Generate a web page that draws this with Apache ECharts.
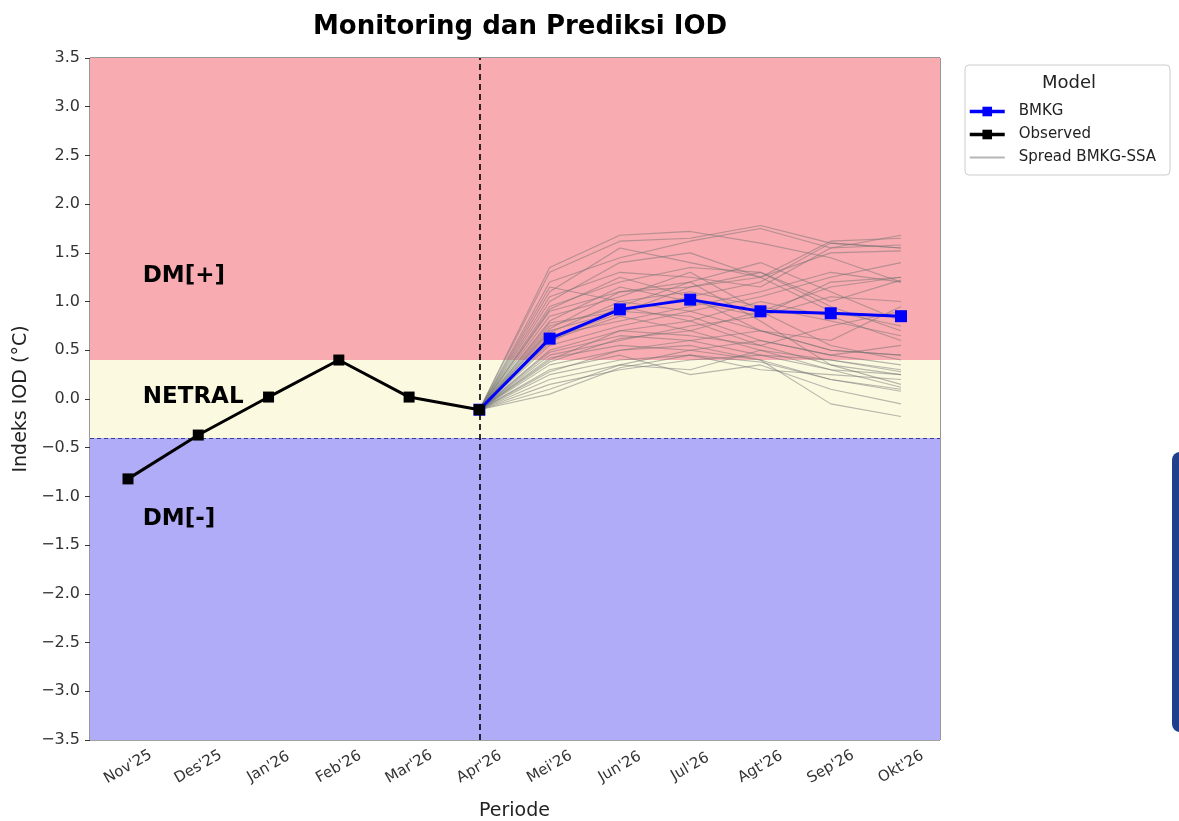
<!DOCTYPE html>
<html>
<head>
<meta charset="utf-8">
<script src="https://cdn.jsdelivr.net/npm/echarts@6/dist/echarts.min.js"></script>
<style>
  html, body { margin: 0; padding: 0; background: #fff; }
  #main { width: 1179px; height: 821px; }
</style>
</head>
<body>
<div id="main"></div>
<script>
var periods = ["Nov'25", "Des'25", "Jan'26", "Feb'26", "Mar'26", "Apr'26",
               "Mei'26", "Jun'26", "Jul'26", "Agt'26", "Sep'26", "Okt'26"];

var observed = [-0.82, -0.37, 0.02, 0.40, 0.02, -0.11];
var bmkg = [-0.11, 0.62, 0.92, 1.02, 0.90, 0.88, 0.85];
var forecastStart = 5; // Apr'26

// ensemble members, Apr'26 .. Okt'26
var spread = [
  [-0.11, 1.35, 1.68, 1.72, 1.60, 1.45, 1.20],
  [-0.11, 1.30, 1.62, 1.65, 1.78, 1.60, 1.55],
  [-0.11, 1.20, 1.45, 1.62, 1.75, 1.55, 1.58],
  [-0.11, 1.10, 1.55, 1.40, 1.25, 1.62, 1.65],
  [-0.11, 1.05, 1.30, 1.25, 1.15, 1.55, 1.68],
  [-0.11, 0.95, 1.20, 1.35, 1.30, 0.95, 0.70],
  [-0.11, 0.90, 1.10, 1.15, 1.25, 1.50, 1.52],
  [-0.11, 0.85, 1.05, 1.30, 0.90, 0.55, 0.40],
  [-0.11, 0.80, 1.15, 1.00, 0.85, 1.20, 1.25],
  [-0.11, 0.75, 0.95, 1.20, 1.40, 1.10, 0.80],
  [-0.11, 0.70, 0.90, 0.85, 0.60, 0.45, 0.35],
  [-0.11, 0.68, 1.00, 1.10, 0.95, 0.80, 0.65],
  [-0.11, 0.65, 0.80, 0.95, 1.10, 1.30, 1.20],
  [-0.11, 0.60, 0.85, 0.70, 0.50, 0.30, 0.25],
  [-0.11, 0.55, 0.75, 0.90, 0.70, 0.60, 0.95],
  [-0.11, 0.50, 0.70, 0.80, 1.00, 0.85, 0.60],
  [-0.11, 0.48, 0.65, 0.60, 0.45, 0.40, 0.30],
  [-0.11, 0.45, 0.60, 0.75, 0.85, 1.05, 1.00],
  [-0.11, 0.42, 0.55, 0.50, 0.40, 0.20, 0.10],
  [-0.11, 0.40, 0.70, 0.65, 0.55, 0.35, 0.15],
  [-0.11, 0.35, 0.50, 0.60, 0.70, 0.50, 0.45],
  [-0.11, 0.30, 0.45, 0.25, 0.35, 0.10, -0.05],
  [-0.11, 0.28, 0.50, 0.55, 0.40, -0.05, -0.18],
  [-0.11, 0.25, 0.40, 0.45, 0.30, 0.25, 0.20],
  [-0.11, 0.20, 0.35, 0.50, 0.60, 0.45, 0.55],
  [-0.11, 0.15, 0.30, 0.40, 0.45, 0.30, 0.12],
  [-0.11, 0.10, 0.35, 0.30, 0.50, 0.40, 0.28],
  [-0.11, 0.05, 0.32, 0.45, 0.38, 0.20, 0.08],
  [-0.11, 1.00, 1.40, 1.50, 1.25, 0.90, 0.75],
  [-0.11, 0.92, 1.25, 1.05, 0.70, 0.50, 0.45],
  [-0.11, 0.78, 0.90, 1.05, 1.20, 1.60, 1.55],
  [-0.11, 0.62, 0.88, 1.15, 1.30, 1.00, 1.22],
  [-0.11, 0.58, 0.95, 0.80, 0.55, 0.75, 0.90],
  [-0.11, 1.15, 1.00, 0.90, 1.05, 1.25, 1.40],
  [-0.11, 0.72, 1.10, 1.20, 0.80, 0.35, 0.25],
  [-0.11, 0.38, 0.62, 0.70, 0.90, 1.15, 1.25]
];

// phase bands: [label, from, to, colour, label y]
var bands = [
  ['DM[+]', 0.4, 3.5, '#f8abb0', 1.26],
  ['NETRAL', -0.4, 0.4, '#fcf9e1', 0.02],
  ['DM[-]', -3.5, -0.4, '#b0acf8', -1.23]
];
var bandLabelX = 0.21;

var FONT = 'DejaVu Sans';

function toXY(values, start) {
  return values.map(function (v, i) { return [start + i, v]; });
}

var series = [];

// background bands live in the outer grid (full plot box)
series.push({
  type: 'line',
  xAxisIndex: 0, yAxisIndex: 0,
  data: [],
  silent: true,
  z: 0,
  markArea: {
    silent: true,
    data: bands.map(function (b) {
      return [{ yAxis: b[1], itemStyle: { color: b[3] } }, { yAxis: b[2] }];
    })
  },
  markLine: {
    silent: true,
    symbol: 'none',
    label: { show: false },
    lineStyle: { color: '#3a3a9a', type: [4, 3], width: 1 },
    data: [{ yAxis: -0.4 }]
  }
});

spread.forEach(function (m) {
  series.push({
    name: 'Spread BMKG-SSA',
    type: 'line',
    xAxisIndex: 1, yAxisIndex: 1,
    data: toXY(m, forecastStart),
    showSymbol: false,
    symbol: 'none',
    silent: true,
    z: 2,
    lineStyle: { color: 'rgba(115,115,115,0.5)', width: 1.1 },
    itemStyle: { color: '#aaaaaa' }
  });
});

series.push({
  name: 'BMKG',
  type: 'line',
  xAxisIndex: 1, yAxisIndex: 1,
  data: toXY(bmkg, forecastStart),
  symbol: 'rect',
  symbolSize: 12,
  z: 4,
  lineStyle: { color: '#0000ff', width: 3 },
  itemStyle: { color: '#0000ff' }
});

series.push({
  name: 'Observed',
  type: 'line',
  xAxisIndex: 1, yAxisIndex: 1,
  data: toXY(observed, 0),
  symbol: 'rect',
  symbolSize: 11,
  z: 5,
  lineStyle: { color: '#000', width: 3 },
  itemStyle: { color: '#000' },
  markLine: {
    silent: true,
    symbol: 'none',
    label: { show: false },
    lineStyle: { color: '#000', type: [6, 4], width: 1.6 },
    data: [{ xAxis: forecastStart }]
  }
});

series.push({
  type: 'scatter',
  xAxisIndex: 1, yAxisIndex: 1,
  data: bands.map(function (b) { return { value: [bandLabelX, b[4]], name: b[0] }; }),
  symbolSize: 0,
  silent: true,
  z: 6,
  itemStyle: { opacity: 1 },
  label: {
    show: true,
    position: 'right',
    distance: 0,
    formatter: '{b}',
    fontFamily: FONT,
    fontWeight: 'bold',
    fontSize: 23,
    color: '#000'
  }
});

var option = {
  animation: false,
  title: {
    text: 'Monitoring dan Prediksi IOD',
    left: 515,
    textAlign: 'center',
    top: 9,
    textStyle: { fontFamily: FONT, fontWeight: 'bold', fontSize: 26, color: '#000' }
  },
  legend: {
    orient: 'vertical',
    left: 965,
    top: 65,
    padding: [39, 14, 10, 3],
    itemWidth: 35,
    itemHeight: 12,
    itemGap: 8,
    borderColor: '#cccccc',
    borderWidth: 1,
    borderRadius: 4,
    backgroundColor: '#fff',
    data: [
      { name: 'BMKG', lineStyle: { width: 3.5 } },
      { name: 'Observed', lineStyle: { width: 3.5 } },
      { name: 'Spread BMKG-SSA', itemStyle: { color: 'transparent', borderWidth: 0 }, lineStyle: { width: 2, color: '#b5b5b5' } }
    ],
    textStyle: { fontFamily: FONT, fontSize: 15, color: '#222', padding: [0, 0, 0, 9] }
  },
  graphic: [
    {
      type: 'text',
      left: 1042,
      top: 74,
      z: 100,
      style: { text: 'Model', fontFamily: FONT, fontSize: 18, fill: '#222' }
    },
    {
      type: 'rect',
      shape: { x: 1172, y: 452, width: 20, height: 280, r: 8 },
      style: { fill: '#1f3f8c' }
    }
  ],
  grid: [
    { left: 90, right: 239, top: 58, bottom: 81, outerBoundsMode: 'none', show: true, borderColor: '#333', borderWidth: 1, backgroundColor: 'transparent' },
    { left: 128, right: 278, top: 58, bottom: 81, outerBoundsMode: 'none' }
  ],
  xAxis: [
    { type: 'value', gridIndex: 0, min: 0, max: 1, show: false },
    {
      type: 'value',
      gridIndex: 1,
      min: 0,
      max: 11,
      interval: 1,
      name: 'Periode',
      nameLocation: 'middle',
      nameGap: 62,
      nameTextStyle: { fontFamily: FONT, fontSize: 19, color: '#222' },
      axisLine: { show: false },
      axisTick: { show: true, inside: false, length: 5, lineStyle: { color: '#333' } },
      splitLine: { show: true, lineStyle: { color: 'rgba(190,190,190,0.25)', width: 1 } },
      axisLabel: {
        rotate: 30,
        align: 'center',
        verticalAlign: 'middle',
        margin: 27,
        fontFamily: FONT,
        fontSize: 15,
        color: '#333',
        formatter: function (v) { return periods[v] || ''; }
      }
    }
  ],
  yAxis: [
    {
      type: 'value',
      gridIndex: 0,
      min: -3.5,
      max: 3.5,
      interval: 0.5,
      name: 'Indeks IOD (°C)',
      nameLocation: 'middle',
      nameGap: 56,
      nameTextStyle: { fontFamily: FONT, fontSize: 19, color: '#222' },
      axisLine: { show: false },
      axisTick: { show: true, inside: false, length: 5, lineStyle: { color: '#333' } },
      splitLine: { show: true, lineStyle: { color: 'rgba(190,190,190,0.25)', width: 1 } },
      axisLabel: {
        margin: 10,
        fontFamily: FONT,
        fontSize: 16,
        color: '#333',
        formatter: function (v) { return v.toFixed(1).replace('-', '\u2212'); }
      }
    },
    { type: 'value', gridIndex: 1, min: -3.5, max: 3.5, interval: 0.5, show: false }
  ],
  series: series
};

var chart = echarts.init(document.getElementById('main'));
chart.setOption(option);
</script>
</body>
</html>
